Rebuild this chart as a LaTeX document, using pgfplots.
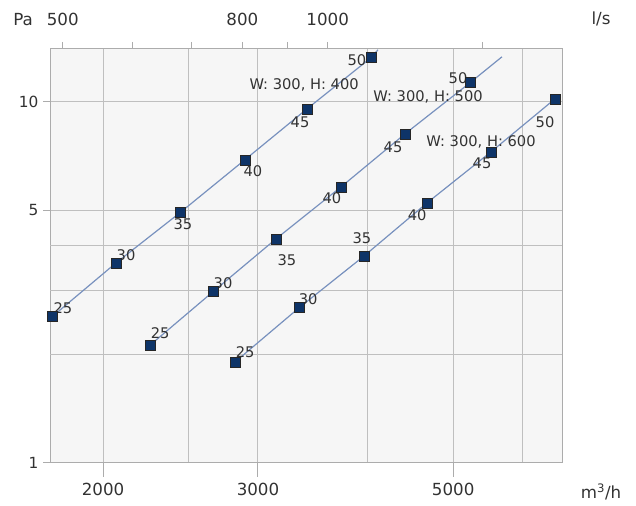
\documentclass[border=0pt]{standalone}
\usepackage{fontspec}
\setmainfont{DejaVu Sans}
\usepackage{pgfplots}
\pgfplotsset{compat=1.18}
\definecolor{markc}{RGB}{14,52,104}
\definecolor{linc}{RGB}{120,145,190}
\definecolor{txt}{RGB}{50,50,50}
\definecolor{bgc}{RGB}{246,246,246}
\pgfplotsset{
 mk/.style={only marks, mark=square*, mark size=3.75pt, mark options={solid, fill=markc, draw=black!85, line width=0.4pt}},
 ln/.style={linc, line width=0.9pt, no marks},
 frame/.style={at={(0,0)}, anchor=south west, scale only axis, width=384pt, height=310.5pt},
}
\begin{document}
\begin{tikzpicture}
\path[use as bounding box] (-37.5pt,-32.25pt) rectangle (439.5pt,347.25pt);
\begin{axis}[
 frame,
 xmode=log, ymode=log,
 xmin=1741, xmax=6648, ymin=1, ymax=14.0,
 axis background/.style={fill=bgc},
 axis line style={gray!65, line width=0.75pt},
 xtick={2000,3000,5000}, xticklabels={,,},
 ytick={1,5,10}, yticklabels={1,5,10},
 extra x ticks={2500,4000,6000}, extra x tick labels={},
 extra y ticks={2,3,4}, extra y tick labels={},
 extra tick style={major tick length=0pt, grid style={gray!22, line width=0.75pt}},
 grid=major, major grid style={gray!50, line width=0.75pt},
 tick align=outside, major tick length=5.25pt,
 xtick pos=left, ytick pos=left,
 tick style={gray!65, line width=0.75pt},
 /pgf/number format/assume math mode=true,
 yticklabel style={font=\fontsize{11.5}{13}\selectfont, text=txt},
 clip=false,
]
\addplot[ln] table {
x y
1750 2.54
2069 3.58
2446 4.93
2899 6.91
3411 9.56
4032 13.24
4107 13.93
};
\addplot[ln] table {
x y
2262 2.12
2667 2.98
3144 4.17
3728 5.81
4408 8.15
5225 11.29
5681 13.32
};
\addplot[ln] table {
x y
2826 1.905
3341 2.69
3959 3.74
4670 5.25
5521 7.27
6527 10.19
};
\addplot[mk] table {
x y
1750 2.54
2069 3.58
2446 4.93
2899 6.91
3411 9.56
4032 13.24
};
\addplot[mk] table {
x y
2262 2.12
2667 2.98
3144 4.17
3728 5.81
4408 8.15
5225 11.29
};
\addplot[mk] table {
x y
2826 1.905
3341 2.69
3959 3.74
4670 5.25
5521 7.27
6527 10.19
};
\begin{scope}[every node/.style={font=\fontsize{11}{13}\selectfont, text=txt, inner sep=0pt}]
% series 1
\node[xshift=8.25pt, yshift=6.75pt] at (axis cs:1750,2.54) {25};
\node[xshift=7.5pt, yshift=6pt] at (axis cs:2069,3.58) {30};
\node[xshift=2.25pt, yshift=-8.25pt] at (axis cs:2446,4.93) {35};
\node[xshift=6pt, yshift=-8.25pt] at (axis cs:2899,6.91) {40};
\node[xshift=-5.25pt, yshift=-9.75pt] at (axis cs:3411,9.56) {45};
\node[xshift=-10.5pt, yshift=-1.5pt] at (axis cs:4032,13.24) {50};
\node at (axis cs:3385,11.15) {W: 300, H: 400};
% series 2
\node[xshift=7.5pt, yshift=9pt] at (axis cs:2262,2.12) {25};
\node[xshift=7.5pt, yshift=6.75pt] at (axis cs:2667,2.98) {30};
\node[xshift=8.25pt, yshift=-15.75pt] at (axis cs:3144,4.17) {35};
\node[xshift=-6.75pt, yshift=-8.25pt] at (axis cs:3728,5.81) {40};
\node[xshift=-9pt, yshift=-9.75pt] at (axis cs:4408,8.15) {45};
\node[xshift=-9pt, yshift=3.75pt] at (axis cs:5225,11.29) {50};
\node at (axis cs:4682,10.32) {W: 300, H: 500};
% series 3
\node[xshift=7.5pt, yshift=7.5pt] at (axis cs:2826,1.905) {25};
\node[xshift=6.75pt, yshift=6.75pt] at (axis cs:3341,2.69) {30};
\node[xshift=-1.5pt, yshift=13.5pt] at (axis cs:3959,3.74) {35};
\node[xshift=-7.5pt, yshift=-9pt] at (axis cs:4670,5.25) {40};
\node[xshift=-6.75pt, yshift=-8.25pt] at (axis cs:5521,7.27) {45};
\node[xshift=-7.5pt, yshift=-17.25pt] at (axis cs:6527,10.19) {50};
\node at (axis cs:5378,7.75) {W: 300, H: 600};
\end{scope}
\begin{scope}[every node/.style={font=\fontsize{12.5}{14}\selectfont, text=txt, inner sep=0pt}]
\node at (rel axis cs:-0.0527,1.070) {Pa};
\node at (rel axis cs:1.0762,1.0725) {l/s};
\node at (rel axis cs:1.0762,-0.070) {m\textsuperscript{3}/h};
\end{scope}
\end{axis}
% bottom m3/h ticks (longer)
\begin{axis}[
 frame,
 xmode=log, xmin=1741, xmax=6648, ymin=0, ymax=1,
 axis x line*=bottom, axis y line=none,
 axis line style={gray!65, line width=0.75pt},
 xtick={2000,3000,5000}, xticklabels={2000,3000,5000},
 tick align=outside, major tick length=10.5pt,
 tick style={gray!65, line width=0.75pt},
 xticklabel style={font=\fontsize{12.5}{14}\selectfont, text=txt, yshift=-0.75pt},
]
\end{axis}
% top l/s ticks
\begin{axis}[
 frame,
 xmode=log, xmin=483.6, xmax=1846.7, ymin=0, ymax=1,
 axis x line*=top, axis y line=none,
 axis line style={gray!65, line width=0.75pt},
 xtick={500,600,700,800,900,1000,1500}, xticklabels={500,,,800,,1000,},
 tick align=outside, major tick length=5.25pt,
 tick style={gray!65, line width=0.75pt},
 xticklabel style={font=\fontsize{12.5}{14}\selectfont, text=txt, yshift=8.5pt},
]
\end{axis}
\end{tikzpicture}
\end{document}
